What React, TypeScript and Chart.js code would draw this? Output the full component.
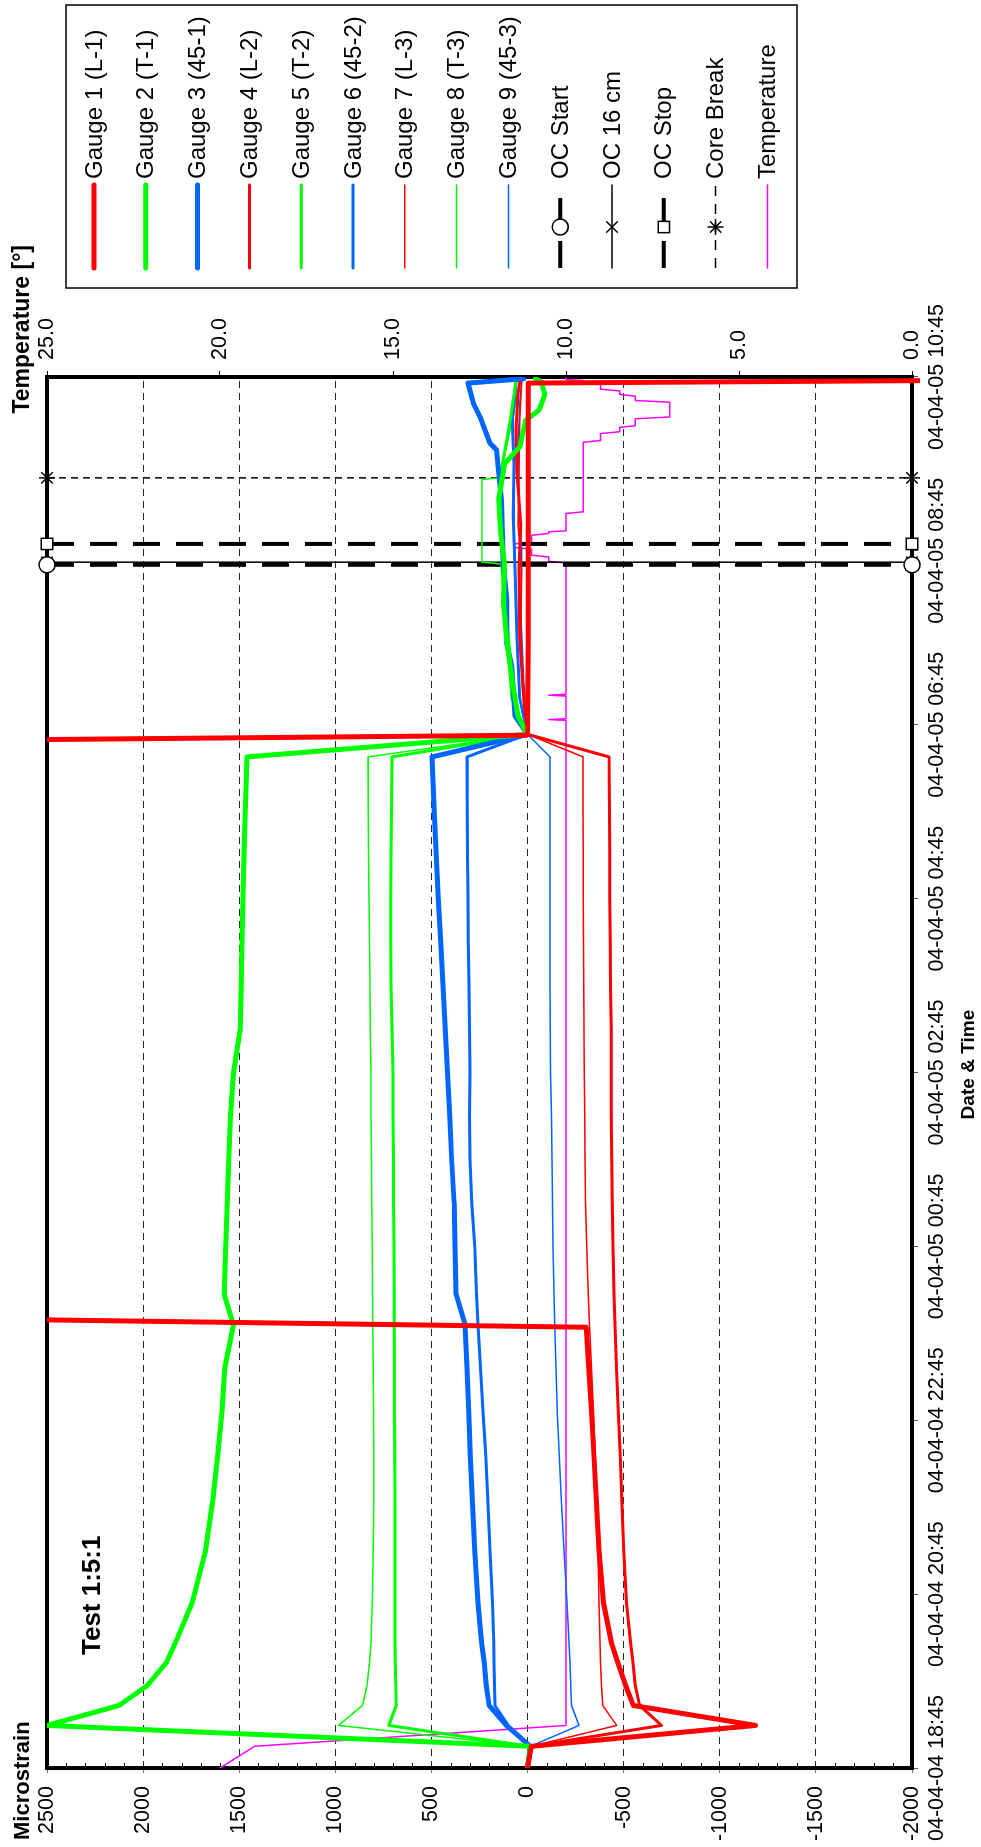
import React, { useEffect, useRef } from 'react';
import { Chart, registerables } from 'chart.js';
import { drawPoint } from 'chart.js/helpers';

Chart.register(...registerables);

// ---------- data ----------
const timeTickLabels = [
  '04-04-04 18:45', '04-04-04 20:45', '04-04-04 22:45', '04-04-05 00:45', '04-04-05 02:45',
  '04-04-05 04:45', '04-04-05 06:45', '04-04-05 08:45', '04-04-05 10:45',
];
const seriesLabels = [
  'Gauge 1 (L-1)', 'Gauge 2 (T-1)', 'Gauge 3 (45-1)', 'Gauge 4 (L-2)', 'Gauge 5 (T-2)',
  'Gauge 6 (45-2)', 'Gauge 7 (L-3)', 'Gauge 8 (T-3)', 'Gauge 9 (45-3)',
];
const eventLabels = ['OC Start', 'OC 16 cm', 'OC Stop', 'Core Break'];
const eventTimes = [13.84, 13.87, 14.08, 14.84]; // hours after 04-04-04 18:45

// hours after 04-04-04 18:45
const earlyT = [0, 0.25, 0.49, 0.72, 0.95, 1.21, 1.45, 1.9, 2.5, 3.1, 3.6, 4.1, 4.6, 5.1, 5.45, 6.0, 6.5, 7.0, 7.5, 8.0, 8.5, 9.0, 9.5, 10.0, 10.5, 11.0, 11.63, 11.89];

const g1T = [0, 0.25, 0.49, 0.72, 0.95, 1.21, 1.45, 1.9, 2.5, 3.1, 3.6, 4.1, 4.6, 5.07, 5.2, 11.8, 11.88, 13.0, 14.5, 15.93, 15.96];
const g1V = [0, -20, -1186, -550, -510, -470, -435, -395, -372, -357, -345, -332, -318, -305, 4000, 4000, 0, -3, -3, -3, -2150];

const g2Pre = [0, -16, 2500, 2125, 1978, 1880, 1830, 1745, 1675, 1636, 1612, 1590, 1575, 1530, 1578, 1570, 1562, 1555, 1545, 1530, 1495, 1490, 1485, 1480, 1475, 1468, 1460, 0];
const g2PostT = [12.1, 12.5, 13.0, 13.4, 13.85, 14.2, 14.6, 15.0, 15.2, 15.5, 15.62, 15.8, 15.95, 15.98];
const g2PostV = [50, 80, 110, 125, 120, 140, 150, 120, 40, 10, -60, -90, -70, -40];

const g3Pre = [0, -15, 110, 200, 215, 225, 240, 258, 275, 288, 298, 306, 315, 325, 372, 378, 382, 395, 405, 416, 428, 440, 452, 465, 475, 485, 497, 0];
const g3PostT = [12.1, 12.67, 12.94, 13.44, 13.86, 14.58, 15.16, 15.24, 15.54, 15.7, 15.93, 15.98];
const g3PostV = [65, 82, 108, 108, 126, 135, 161, 196, 247, 282, 310, 20];

const g4Pre = [0, -20, -697, -583, -560, -548, -535, -515, -500, -490, -482, -472, -463, -455, -450, -445, -440, -438, -436, -436, -435, -432, -430, -428, -427, -426, -424, 0];
const g4PostT = [12.3, 13.0, 13.8, 14.3, 14.9, 15.4, 15.8, 15.96];
const g4PostV = [20, 40, 45, 35, 55, 60, 50, 40];

const g5Pre = [0, -10, 722, 683, 686, 688, 690, 690, 690, 690, 691, 692, 692, 693, 694, 695, 697, 698, 700, 700, 705, 710, 712, 712, 711, 708, 705, 0];
const g5PostT = [12.2, 12.7, 13.3, 13.85, 14.4, 15.0, 15.5, 15.8, 15.96];
const g5PostV = [70, 90, 110, 130, 140, 130, 90, 70, 60];

const g6Pre = [0, -15, 100, 170, 172, 174, 176, 182, 195, 207, 218, 232, 245, 258, 265, 275, 290, 300, 302, 300, 302, 305, 308, 310, 312, 314, 315, 0];
const g6PostT = [12.3, 13.0, 13.8, 14.4, 15.0, 15.5, 15.8, 15.96];
const g6PostV = [40, 55, 65, 75, 70, 80, 65, 60];

const g7Pre = [0, -20, -464, -391, -385, -380, -377, -372, -366, -360, -352, -343, -333, -322, -316, -308, -302, -299, -297, -295, -293, -292, -291, -290, -290, -289, -289, 0];
const g7PostT = [12.4, 13.1, 13.8, 14.3, 14.9, 15.5, 15.96];
const g7PostV = [25, 35, 30, 50, 45, 40, 30];

const g8Pre = [0, -10, 983, 859, 835, 822, 815, 808, 803, 800, 800, 801, 803, 805, 806, 808, 810, 812, 814, 815, 818, 820, 822, 825, 827, 829, 830, 0];
const g8PostT = [12.3, 12.9, 13.5, 13.85, 13.87, 14.82, 14.84, 15.2, 15.6, 15.96];
const g8PostV = [85, 105, 125, 140, 237, 237, 150, 110, 70, 40];

const g9Pre = [0, -15, -268, -229, -225, -221, -215, -205, -190, -175, -165, -155, -148, -142, -138, -133, -130, -127, -124, -120, -118, -117, -117, -117, -117, -117, -117, 0];
const g9PostT = [12.5, 13.3, 14.0, 14.6, 15.2, 15.7, 15.96];
const g9PostV = [20, 35, 30, 45, 50, 40, 30];

const tempT = [0, 0.25, 0.49, 12.05, 12.06, 12.07, 12.33, 12.34, 12.35, 13.86, 13.88, 13.93, 13.95, 14.02, 14.04, 14.08, 14.1, 14.18, 14.2, 14.22, 14.23, 14.43, 14.45, 15.25, 15.27, 15.35, 15.37, 15.42, 15.44, 15.52, 15.54, 15.71, 15.73, 15.78, 15.8, 15.84, 15.86, 15.92, 15.94, 15.96, 15.97, 16.0];
const tempV = [20.0, 19.0, 10.0, 10.0, 10.5, 10.0, 10.0, 10.5, 10.0, 10.0, 10.5, 10.5, 11.0, 11.0, 11.5, 11.5, 11.0, 11.0, 10.5, 10.5, 10.0, 10.0, 9.5, 9.5, 9.0, 9.0, 8.45, 8.45, 8.0, 8.0, 7.0, 7.0, 8.0, 8.0, 8.45, 8.45, 9.0, 9.0, 9.5, 9.5, 10.0, 10.0];

const strainMin = -2000;
const strainMax = 2500;
const tempMin = 0;
const tempMax = 25;

// ---------- helpers ----------
const pts = (t: number[], v: number[]) => t.map((x, i) => ({ x, y: v[i] }));
const joined = (pre: number[], postT: number[], postV: number[]) =>
  pts(earlyT, pre).concat(pts(postT, postV));

const RED = '#FF0000';
const GREEN = '#00FF00';
const BLUE = '#0066FF';
const MAGENTA = '#FF00FF';

const W = 1847;
const H = 981;
const SANS = '"Liberation Sans", Arial, Helvetica, sans-serif';

function fontAvailable(name: string) {
  const c = document.createElement('canvas').getContext('2d')!;
  const s = 'abcdefghijklmnopqrstuvwxyz0123456789-:';
  c.font = '40px monospace';
  const a = c.measureText(s).width;
  c.font = `40px "${name}", monospace`;
  const b = c.measureText(s).width;
  c.font = '40px serif';
  const a2 = c.measureText(s).width;
  c.font = `40px "${name}", serif`;
  const b2 = c.measureText(s).width;
  return a !== b || a2 !== b2;
}

function fitSize(family: string, weight: string, text: string, target: number) {
  const c = document.createElement('canvas').getContext('2d')!;
  c.font = `${weight} 100px ${family}`;
  return (100 * target) / c.measureText(text).width;
}

export default function App() {
  const ref = useRef<HTMLCanvasElement | null>(null);

  useEffect(() => {
    const canvas = ref.current;
    if (!canvas) return;

    const narrow = ['Liberation Sans Narrow', 'Arial Narrow'].find(fontAvailable);
    const tickFamily = narrow ? `"${narrow}", ${SANS}` : SANS;
    const tickSize = Math.min(26, fitSize(tickFamily, 'normal', timeTickLabels[0], 146));
    const dtSize = fitSize(tickFamily, 'bold', 'Date & Time', 110);

    const lineDs = (label: string, data: any[], color: string, width: number, extra: any = {}) => ({
      label,
      data,
      borderColor: color,
      backgroundColor: color,
      borderWidth: width,
      showLine: true,
      pointRadius: 0,
      pointHoverRadius: 0,
      borderJoinStyle: 'round',
      borderCapStyle: 'round',
      tension: 0,
      yAxisID: 'y',
      ...extra,
    });

    const eventDs = (i: number, width: number, dash: number[], style: string) => ({
      label: eventLabels[i],
      data: [
        { x: eventTimes[i], y: strainMax },
        { x: eventTimes[i], y: strainMin },
      ],
      borderColor: '#000',
      backgroundColor: '#fff',
      borderWidth: width,
      borderDash: dash,
      showLine: true,
      pointRadius: 8,
      pointHoverRadius: 8,
      pointStyle: style,
      pointBorderColor: '#000',
      pointBackgroundColor: '#fff',
      pointBorderWidth: 1.5,
      yAxisID: 'y',
      clip: false,
    });

    const datasets: any[] = [
      lineDs(seriesLabels[0], pts(g1T, g1V), RED, 5, { clip: { left: 0, top: 0, right: 0, bottom: 8 } }),
      lineDs(seriesLabels[1], joined(g2Pre, g2PostT, g2PostV), GREEN, 5),
      lineDs(seriesLabels[2], joined(g3Pre, g3PostT, g3PostV), BLUE, 5),
      lineDs(seriesLabels[3], joined(g4Pre, g4PostT, g4PostV), RED, 3),
      lineDs(seriesLabels[4], joined(g5Pre, g5PostT, g5PostV), GREEN, 3),
      lineDs(seriesLabels[5], joined(g6Pre, g6PostT, g6PostV), BLUE, 3),
      lineDs(seriesLabels[6], joined(g7Pre, g7PostT, g7PostV), RED, 1.5),
      lineDs(seriesLabels[7], joined(g8Pre, g8PostT, g8PostV), GREEN, 1.5),
      lineDs(seriesLabels[8], joined(g9Pre, g9PostT, g9PostV), BLUE, 1.5),
      eventDs(0, 4, [27, 16], 'circle'),
      eventDs(1, 1.5, [], 'crossRot'),
      eventDs(2, 4, [27, 16], 'rect'),
      eventDs(3, 1.5, [7, 5], 'star'),
      lineDs('Temperature', pts(tempT, tempV), MAGENTA, 1.5, { yAxisID: 'y2' }),
    ];

    const legendItems = [
      { label: seriesLabels[0], color: RED, width: 5, dash: [], marker: '' },
      { label: seriesLabels[1], color: GREEN, width: 5, dash: [], marker: '' },
      { label: seriesLabels[2], color: BLUE, width: 5, dash: [], marker: '' },
      { label: seriesLabels[3], color: RED, width: 3, dash: [], marker: '' },
      { label: seriesLabels[4], color: GREEN, width: 3, dash: [], marker: '' },
      { label: seriesLabels[5], color: BLUE, width: 3, dash: [], marker: '' },
      { label: seriesLabels[6], color: RED, width: 1.5, dash: [], marker: '' },
      { label: seriesLabels[7], color: GREEN, width: 1.5, dash: [], marker: '' },
      { label: seriesLabels[8], color: BLUE, width: 1.5, dash: [], marker: '' },
      { label: eventLabels[0], color: '#000', width: 4, dash: [27, 16], marker: 'circle' },
      { label: eventLabels[1], color: '#000', width: 1.5, dash: [], marker: 'crossRot' },
      { label: eventLabels[2], color: '#000', width: 4, dash: [27, 16], marker: 'rect' },
      { label: eventLabels[3], color: '#000', width: 1.5, dash: [10, 8], marker: 'star' },
      { label: 'Temperature', color: MAGENTA, width: 1.5, dash: [], marker: '' },
    ];

    const decor = {
      id: 'decor',
      beforeDatasetsDraw(chart: any) {
        const { ctx, chartArea: a, scales } = chart;
        ctx.save();
        // minor ticks every 100 on the strain axis, inside the plot
        ctx.strokeStyle = '#000';
        ctx.lineWidth = 1;
        for (let v = strainMin + 100; v < strainMax; v += 100) {
          if (v % 500 === 0) continue;
          const y = Math.round(scales.y.getPixelForValue(v)) + 0.5;
          ctx.beginPath();
          ctx.moveTo(a.left, y);
          ctx.lineTo(a.left + 5, y);
          ctx.stroke();
        }
        // plot frame
        ctx.lineWidth = 4;
        ctx.strokeStyle = '#000';
        ctx.strokeRect(a.left, a.top, a.right - a.left, a.bottom - a.top);
        ctx.restore();
      },
      afterDraw(chart: any) {
        const { ctx, chartArea: a } = chart;
        ctx.save();
        ctx.fillStyle = '#000';
        ctx.textBaseline = 'middle';

        ctx.font = `bold 22px ${SANS}`;
        ctx.textAlign = 'left';
        ctx.fillText('Microstrain', 7, 23);

        ctx.font = `bold 23px ${SANS}`;
        ctx.textAlign = 'right';
        ctx.fillText('Temperature [\u00b0]', 1602, 23);

        ctx.font = `bold 26px ${SANS}`;
        ctx.textAlign = 'left';
        ctx.fillText('Test 1:5:1', 192, 93);

        ctx.font = `bold ${dtSize}px ${tickFamily}`;
        ctx.textAlign = 'center';
        ctx.fillText('Date & Time', (a.left + a.right) / 2 + 8, 969);

        // legend
        const bx = 1559, by = 66, bw = 1842 - 1559, bh = 797 - 66;
        ctx.lineWidth = 1.5;
        ctx.strokeStyle = '#000';
        ctx.strokeRect(bx, by, bw, bh);
        ctx.font = `24px ${SANS}`;
        ctx.textAlign = 'left';
        legendItems.forEach((it, i) => {
          const yc = 94 + i * 51.8;
          ctx.save();
          ctx.strokeStyle = it.color;
          ctx.lineWidth = it.width;
          ctx.lineCap = it.dash.length ? 'butt' : 'round';
          ctx.setLineDash(it.dash);
          ctx.beginPath();
          ctx.moveTo(1579, yc);
          ctx.lineTo(1662, yc);
          ctx.stroke();
          ctx.restore();
          if (it.marker) {
            ctx.save();
            ctx.strokeStyle = '#000';
            ctx.fillStyle = '#fff';
            ctx.lineWidth = 1.5;
            ctx.setLineDash([]);
            drawPoint(ctx, { pointStyle: it.marker, radius: 8, borderWidth: 1.5, rotation: 0 } as any, 1620, yc);
            ctx.restore();
          }
          ctx.fillStyle = '#000';
          ctx.fillText(it.label, 1668, yc + 1);
        });
        ctx.restore();
      },
    };

    const chart = new Chart(canvas, {
      type: 'scatter',
      data: { datasets },
      options: {
        animation: false,
        responsive: false,
        devicePixelRatio: 1,
        layout: { padding: { top: 47, left: 0, right: 0, bottom: 0 } },
        plugins: {
          legend: { display: false },
          title: { display: false },
          tooltip: { enabled: false },
        },
        events: [],
        scales: {
          x: {
            type: 'linear',
            position: 'bottom',
            min: 0,
            max: 16,
            afterFit: (s: any) => { s.height = H - 912; },
            grid: { drawOnChartArea: false, drawTicks: true, tickLength: 6, tickColor: '#555', lineWidth: 1 },
            border: { display: false },
            ticks: {
              stepSize: 2,
              autoSkip: false,
              maxRotation: 0,
              minRotation: 0,
              padding: 6,
              color: '#000',
              font: { family: tickFamily, size: tickSize },
              callback: (v: any) => timeTickLabels[Math.round(Number(v) / 2)] ?? '',
            },
          },
          y: {
            type: 'linear',
            position: 'left',
            min: strainMin,
            max: strainMax,
            afterFit: (s: any) => { s.width = 78; },
            grid: { drawOnChartArea: true, drawTicks: true, tickLength: 5, tickColor: '#777', color: 'rgba(0,0,0,0.85)', lineWidth: 1 },
            border: { display: false, dash: [7, 5] },
            ticks: {
              stepSize: 500,
              padding: 13,
              color: '#000',
              font: { family: tickFamily, size: tickSize },
              callback: (v: any) => String(v),
            },
          },
          y2: {
            type: 'linear',
            position: 'right',
            min: tempMin,
            max: tempMax,
            afterFit: (s: any) => { s.width = W - 1470; },
            grid: { drawOnChartArea: false, drawTicks: true, tickLength: 6, tickColor: '#000', lineWidth: 1 },
            border: { display: false },
            ticks: {
              stepSize: 5,
              padding: 11,
              color: '#000',
              font: { family: tickFamily, size: tickSize },
              callback: (v: any) => Number(v).toFixed(1),
            },
          },
        },
      } as any,
      plugins: [decor],
    });

    return () => chart.destroy();
  }, []);

  return (
    <div style={{ position: 'absolute', left: 0, top: 0, width: 981, height: 1847, overflow: 'hidden', background: '#fff' }}>
      <div
        style={{
          position: 'absolute',
          left: 0,
          top: 0,
          width: W,
          height: H,
          transformOrigin: '0 0',
          transform: `translate(0px, ${W}px) rotate(-90deg)`,
        }}
      >
        <canvas ref={ref} width={W} height={H} style={{ width: W, height: H, display: 'block' }} />
      </div>
    </div>
  );
}
